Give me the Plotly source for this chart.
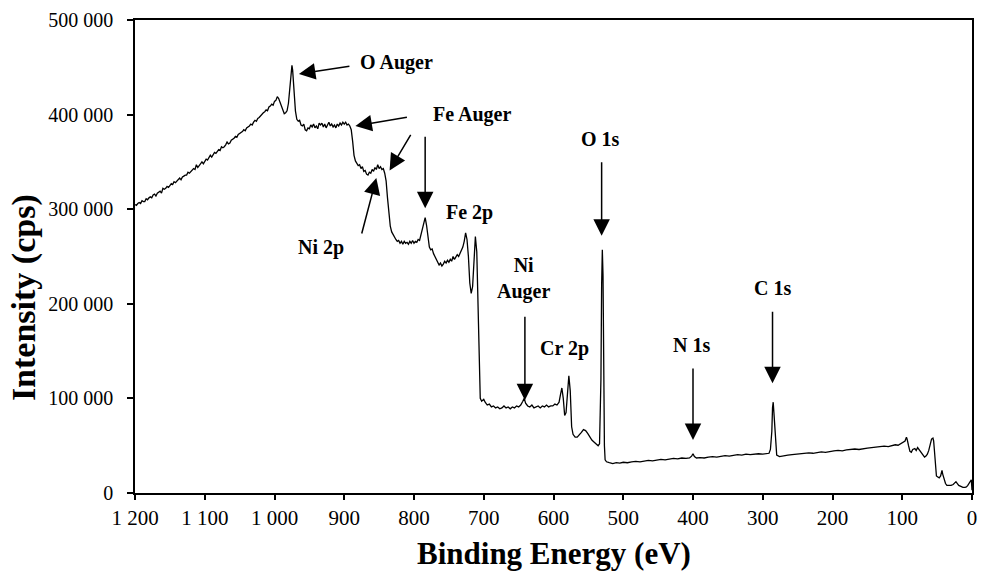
import plotly.graph_objects as go

# XPS survey spectrum: binding energy (eV) and intensity (thousand cps)
binding_energy = [
    1200, 1198, 1196, 1194, 1192, 1190, 1188, 1186, 1184, 1182,
    1180, 1178, 1176, 1174, 1172, 1170, 1168, 1166, 1164, 1162,
    1160, 1158, 1156, 1154, 1152, 1150, 1148, 1146, 1144, 1142,
    1140, 1138, 1136, 1134, 1132, 1130, 1128, 1126, 1124, 1122,
    1120, 1118, 1116, 1114, 1112, 1110, 1108, 1106, 1104, 1102,
    1100, 1098, 1096, 1094, 1092, 1090, 1088, 1086, 1084, 1082,
    1080, 1078, 1076, 1074, 1072, 1070, 1068, 1066, 1064, 1062,
    1060, 1058, 1056, 1054, 1052, 1050, 1048, 1046, 1044, 1042,
    1040, 1038, 1036, 1034, 1032, 1030, 1028, 1026, 1024, 1022,
    1020, 1018, 1016, 1014, 1012, 1010, 1008, 1006, 1004, 1002,
    1000, 998, 996, 994, 992, 990, 988, 986, 984, 982,
    980, 978, 976, 975, 974, 972, 970, 968, 966, 964,
    962, 960, 958, 956, 954, 952, 950, 948, 946, 944,
    942, 940, 938, 936, 934, 932, 930, 928, 926, 924,
    922, 920, 918, 916, 914, 912, 910, 908, 906, 904,
    902, 900, 898, 896, 894, 892, 890, 888, 886, 884,
    882, 880, 878, 876, 874, 872, 870, 868, 866, 864,
    862, 860, 858, 856, 854, 852, 850, 848, 846, 844,
    842, 840, 838, 836, 834, 832, 830, 828, 826, 824,
    822, 820, 818, 816, 814, 812, 810, 808, 806, 804,
    802, 800, 798, 796, 794, 792, 790, 788, 786, 784,
    782, 780, 778, 776, 774, 772, 770, 768, 766, 764,
    762, 760, 758, 756, 754, 752, 750, 748, 746, 744,
    742, 740, 738, 736, 734, 732, 730, 728, 726, 724,
    722, 720, 718, 716, 714, 712, 710, 708, 706, 705,
    703, 700, 698, 695, 692, 689, 686, 683, 680, 677,
    674, 671, 668, 665, 662, 659, 656, 653, 650, 647,
    644, 642, 640, 637, 634, 631, 628, 625, 622, 619,
    616, 613, 610, 607, 604, 601, 598, 595, 592, 590,
    588, 586, 584, 582, 580, 578, 576, 574, 572, 569,
    566, 563, 560, 557, 554, 551, 548, 545, 542, 539,
    536, 534, 532, 531, 530, 529, 528, 527, 526, 524,
    520, 515, 510, 505, 500, 494, 488, 482, 476, 470,
    464, 458, 452, 446, 440, 434, 428, 422, 416, 410,
    405, 402, 400, 398, 395, 390, 384, 378, 372, 366,
    360, 354, 348, 342, 336, 330, 324, 318, 312, 306,
    300, 294, 291, 289, 287, 286, 285, 284, 282, 280,
    276, 270, 264, 258, 252, 246, 240, 234, 228, 222,
    216, 210, 204, 198, 192, 186, 180, 174, 168, 162,
    156, 150, 144, 138, 132, 126, 120, 114, 110, 106,
    102, 99, 96, 94, 93, 91, 89, 87, 85, 82,
    80, 78, 76, 74, 71, 68, 66, 64, 62, 60,
    58, 56, 55, 54, 53, 52, 51, 49, 47, 45,
    44, 43, 42, 40, 38, 36, 33, 30, 27, 25,
    23, 21, 19, 16, 13, 10, 8, 6, 4, 2,
    1, 0,
]

intensity_k = [
    305, 304, 306, 307, 306, 309, 308, 308, 311, 310,
    312, 313, 312, 315, 316, 314, 317, 318, 319, 317,
    322, 321, 322, 324, 323, 325, 327, 326, 329, 328,
    330, 331, 333, 331, 334, 335, 336, 336, 339, 338,
    340, 342, 343, 342, 347, 344, 346, 349, 350, 348,
    351, 353, 352, 355, 357, 355, 358, 360, 359, 361,
    363, 362, 366, 365, 366, 368, 371, 369, 370, 373,
    374, 375, 377, 376, 379, 380, 381, 382, 384, 383,
    386, 387, 388, 390, 389, 392, 394, 393, 396, 397,
    399, 400, 402, 403, 405, 404, 408, 409, 411, 410,
    414, 415, 419, 417, 413, 410, 405, 401, 402, 404,
    412, 430, 450, 452, 447, 425, 404, 395, 393, 394,
    389, 388, 390, 384, 383, 386, 385, 389, 387, 390,
    386, 388, 385, 391, 389, 391, 387, 390, 386, 389,
    392, 388, 390, 387, 389, 386, 390, 388, 391, 389,
    392, 390, 392, 389, 390, 388, 384, 372, 357, 351,
    348, 346, 347, 343, 345, 340, 341, 337, 336, 339,
    338, 342, 340, 344, 342, 347, 343, 345, 342, 343,
    338, 330, 312, 293, 282, 276, 273, 270, 268, 266,
    267, 264, 266, 263, 266, 264, 265, 263, 266, 264,
    267, 264, 266, 265, 268, 267, 273, 280, 287, 291,
    283, 270, 260, 257, 258, 253, 250, 246, 243, 241,
    243, 240, 242, 245, 243, 246, 244, 247, 245, 250,
    247, 249, 252, 250, 253, 256, 260, 266, 275, 268,
    250, 222, 211, 218, 250, 271, 255, 180, 110, 100,
    97, 99, 96, 93, 94, 91, 92, 90, 91, 89,
    90, 92, 90, 91, 89, 91, 90, 92, 91, 93,
    97, 100, 95, 92, 91, 93, 90, 91, 92, 90,
    92, 91, 93, 91, 92, 92, 94, 93, 96, 104,
    111, 100, 82, 85, 108, 124, 108, 70, 62, 59,
    59, 61, 64, 67, 66, 63, 59, 56, 54, 52,
    50, 52, 120, 220, 257, 230, 120, 50, 35, 33,
    32, 31, 32, 31.5, 32.5, 32, 33, 33.5, 33, 34,
    34.5, 34, 35, 35.5, 35, 36, 36.5, 36, 37, 36.5,
    37, 39, 41.5, 38.5, 37, 37.5, 37, 38, 38.5, 38,
    39, 39.5, 39, 40, 40.5, 40, 41, 40.5, 41, 41.5,
    41, 41.5, 42, 46, 65, 90, 96, 85, 55, 40,
    38.5, 39.5, 40, 40.5, 41, 41.5, 42, 42.5, 42, 43,
    43.5, 43, 44, 44.5, 45, 44.5, 45.5, 46, 46.5, 46,
    47, 47.5, 48, 48.5, 49, 49.5, 49, 50, 51, 50.5,
    52, 53, 55, 59, 57, 50, 44, 43, 46, 47,
    45, 48, 46, 43, 40, 38, 39, 41, 45, 52,
    57, 58, 55, 46, 35, 22, 18, 17, 16, 18,
    22, 24, 20, 15, 10, 8, 8, 8, 9, 11,
    12, 10, 8, 7, 6, 6, 6.5, 8, 10, 13,
    14, 3,
]

intensity = [v * 1000 for v in intensity_k]

# tick labels with a space as thousands separator
x_ticks = [1200, 1100, 1000, 900, 800, 700, 600, 500, 400, 300, 200, 100, 0]
x_tick_text = ["1 200", "1 100", "1 000", "900", "800", "700", "600", "500", "400", "300", "200", "100", "0"]
y_ticks = [0, 100000, 200000, 300000, 400000, 500000]
y_tick_text = ["0", "100 000", "200 000", "300 000", "400 000", "500 000"]

# peak labels: text, label position (eV, cps)
labels = [
    ("O Auger", 825, 455000),
    ("Fe Auger", 717, 400000),
    ("Ni 2p", 933, 259000),
    ("Fe 2p", 721, 296000),
    ("Ni<br>Auger", 643, 227000),
    ("Cr 2p", 584, 153000),
    ("O 1s", 532, 374000),
    ("N 1s", 402, 156000),
    ("C 1s", 286, 217000),
]

# arrows: tip (eV, cps) and tail offset in pixels
arrows = [
    (965, 443000, 52, -8),
    (884, 388000, 53, -9),
    (835, 341000, 22, -37),
    (784, 301000, 0, -73),
    (854, 333000, -15, 57),
    (641, 98000, 0, -85),
    (531, 272000, 0, -75),
    (400, 56000, 0, -73),
    (286, 116000, 0, -73),
]

SERIF = "Liberation Serif, Times New Roman, serif"

fig = go.Figure()
fig.add_trace(go.Scatter(
    x=binding_energy, y=intensity, mode="lines",
    line=dict(color="black", width=1.3), showlegend=False, hoverinfo="skip",
))

annotations = []
for text, xv, yv in labels:
    annotations.append(dict(
        x=xv, y=yv, xref="x", yref="y", text=f"<b>{text}</b>", showarrow=False,
        font=dict(family=SERIF, size=20, color="black"), align="center",
    ))
for xv, yv, dx, dy in arrows:
    annotations.append(dict(
        x=xv, y=yv, xref="x", yref="y", ax=dx, ay=dy, text="", showarrow=True,
        arrowhead=2, arrowsize=2.2, arrowwidth=1.5, arrowcolor="black",
    ))

annotations.append(dict(
    x=0, y=0.412, xref="paper", yref="paper", xshift=-111, text="<b>Intensity (cps)</b>",
    textangle=-90, showarrow=False, font=dict(family=SERIF, size=34, color="black"),
    xanchor="center", yanchor="middle",
))
annotations.append(dict(
    x=0.5, y=0, xref="paper", yref="paper", yshift=-60, text="<b>Binding Energy (eV)</b>",
    showarrow=False, font=dict(family=SERIF, size=31, color="black"),
    xanchor="center", yanchor="middle",
))

fig.update_layout(
    width=983, height=573,
    margin=dict(l=135, r=6, t=20, b=80),
    paper_bgcolor="white", plot_bgcolor="white",
    annotations=annotations,
    xaxis=dict(
        range=[1200, 0], tickvals=x_ticks, ticktext=x_tick_text,
        showgrid=False, zeroline=False, showline=True, linecolor="black", linewidth=1.5,
        mirror=True, ticks="outside", ticklen=5, tickwidth=1.5, tickcolor="black",
        tickfont=dict(family=SERIF, size=21, color="black"),
    ),
    yaxis=dict(
        range=[0, 500000], tickvals=y_ticks, ticktext=y_tick_text,
        showgrid=False, zeroline=False, showline=True, linecolor="black", linewidth=1.5,
        mirror=True, ticks="outside", ticklen=6, tickwidth=1.5, tickcolor="black",
        tickfont=dict(family=SERIF, size=20, color="black"), ticklabelstandoff=10,
    ),
)

fig.write_html("out.html")
